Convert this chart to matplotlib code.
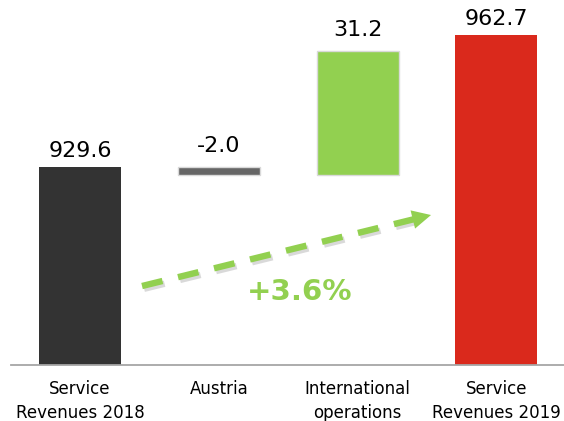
import matplotlib
matplotlib.use("Agg")
import matplotlib.pyplot as plt
import matplotlib.patheffects as pe
import numpy as np

# waterfall data
categories = ["Service\nRevenues 2018", "Austria", "International\noperations", "Service\nRevenues 2019"]
values = [929.6, -2.0, 31.2, 962.7]
is_total = [True, False, False, True]
labels = ["929.6", "-2.0", "31.2", "962.7"]
colors = ["#333333", "#666666", "#92D050", "#DA291C"]
growth_label = "+3.6%"

y_min, y_max = 880, 971.5
green = "#92D050"

fig = plt.figure(figsize=(5.64, 4.21), dpi=100)
ax = fig.add_axes([11 / 564, 56 / 421, 553 / 564, 365 / 421])

x = np.arange(len(categories))
running = 0.0
for i, (v, tot) in enumerate(zip(values, is_total)):
    if tot:
        bottom, height = y_min, v - y_min
        running = v
    else:
        bottom, height = running, v
        running += v
    edge = "#d9d9d9" if not tot else colors[i]
    ax.bar(x[i], height, bottom=bottom, width=0.59, color=colors[i],
           edgecolor=edge, linewidth=1 if not tot else 0, zorder=2)
    top = max(bottom, bottom + height)
    gap = 7.2 if tot else 10.8
    ax.annotate(labels[i], (x[i], top), xytext=(0, gap), textcoords="offset points",
                ha="center", va="baseline", fontsize=16, color="#000000")

# growth arrow
arrow_start = (0.447, 899.8)
arrow_end = (2.529, 917.6)
shadow = [pe.SimpleLineShadow(offset=(1.5, -2), alpha=0.22, shadow_color="#555555"), pe.Normal()]
frac = 0.94
mid = (arrow_start[0] + (arrow_end[0] - arrow_start[0]) * frac,
       arrow_start[1] + (arrow_end[1] - arrow_start[1]) * frac)
ax.plot([arrow_start[0], mid[0]], [arrow_start[1], mid[1]], color=green, lw=4.6,
        linestyle=(0, (3.3, 2.5)), solid_capstyle="butt", dash_capstyle="butt",
        path_effects=shadow, zorder=3)
ax.annotate("", xy=arrow_end, xytext=mid,
            arrowprops=dict(arrowstyle="-|>,head_length=0.9,head_width=0.45", color=green,
                            lw=0, mutation_scale=15, shrinkA=0, shrinkB=0), zorder=3)
ax.text(1.585, 898.3, growth_label, ha="center", va="center", fontsize=21,
        fontweight="bold", color=green)

ax.set_xlim(-0.497, 3.487)
ax.set_ylim(y_min, y_max)
ax.set_xticks(x)
ax.set_xticklabels(categories, fontsize=12, color="#000000", linespacing=1.4)
ax.tick_params(axis="x", length=0, pad=11)
ax.set_yticks([])
for s in ["top", "right", "left"]:
    ax.spines[s].set_visible(False)
ax.spines["bottom"].set_color("#a6a6a6")
ax.spines["bottom"].set_linewidth(1.3)

fig.savefig("out.png", dpi=100)
